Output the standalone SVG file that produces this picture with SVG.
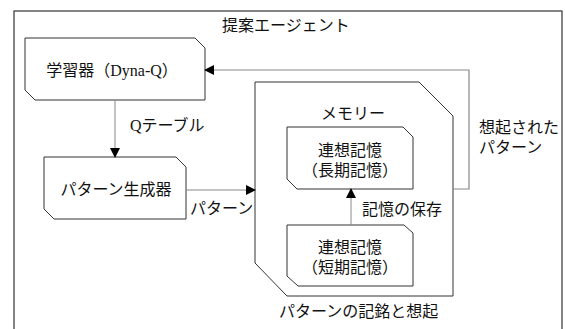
<svg xmlns="http://www.w3.org/2000/svg" width="565" height="329" viewBox="0 0 565 329">
<style>
text{font-family:"Liberation Serif","Noto Sans CJK JP",serif;font-size:16px;fill:#111}
.box{fill:#fff;stroke:#333;stroke-width:1}
.gbox{fill:none;stroke:#888;stroke-width:1.2}
.conn{fill:none;stroke:#888;stroke-width:1}
.m{text-anchor:middle}
</style>
<defs>
<marker id="ah" markerWidth="10" markerHeight="10" refX="9" refY="5" orient="auto" markerUnits="userSpaceOnUse">
<path d="M0,0 L10,5 L0,10 Z" fill="#000"/>
</marker>
</defs>
<rect x="0" y="0" width="565" height="329" fill="#fff"/>
<g id="agent">
<rect x="14" y="11" width="548" height="330" fill="none" stroke="#333" stroke-width="1.2"/>
<text x="222" y="31">提案エージェント</text>
</g>
<g id="learner">
<path class="box" d="M25,38 L195,38 L205,48 L205,100 L35,100 L25,90 Z"/>
<text class="m" x="112" y="76">学習器（Dyna-Q）</text>
</g>
<g id="generator">
<path class="box" d="M44,157 L176,157 L186,167 L186,219 L54,219 L44,209 Z"/>
<text class="m" x="116" y="195">パターン生成器</text>
</g>
<g id="recall">
<path class="box" d="M255,82 L419,82 L453,116 L453,296 L287,296 L255,263 Z"/>
<text x="279" y="317">パターンの記銘と想起</text>
<text class="m" x="353" y="119">メモリー</text>
</g>
<g id="longterm">
<path class="box" d="M287,127 L403,127 L413,137 L413,189 L297,189 L287,179 Z"/>
<text class="m" x="350" y="156">連想記憶</text>
<text class="m" x="350" y="176">（長期記憶）</text>
</g>
<g id="shortterm">
<path class="box" d="M287,225 L404,225 L413,233 L413,286 L298,286 L287,276 Z"/>
<text class="m" x="350" y="253">連想記憶</text>
<text class="m" x="350" y="273">（短期記憶）</text>
</g>
<g id="connectors">
<path class="conn" d="M115,100 L115,157" marker-end="url(#ah)"/>
<text x="130" y="131">Qテーブル</text>
<path class="conn" d="M186,190 L255,190" marker-end="url(#ah)"/>
<text x="190" y="214">パターン</text>
<path class="conn" d="M351,225 L351,189" marker-end="url(#ah)"/>
<text x="362" y="215">記憶の保存</text>
<path class="gbox" d="M453,189 L469,189 L469,70 L205,70" marker-end="url(#ah)"/>
<text x="479" y="133">想起された</text>
<text x="479" y="153">パターン</text>
</g>
</svg>
